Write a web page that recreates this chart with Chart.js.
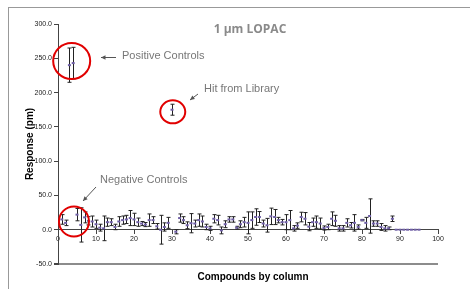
<!DOCTYPE html>
<html>
<head>
<meta charset="utf-8">
<script src="https://cdn.jsdelivr.net/npm/chart.js@4"></script>
<style>
  html, body { margin: 0; padding: 0; background: #fff; }
  #wrap { width: 470px; height: 289px; position: relative; }
</style>
</head>
<body>
<div id="wrap"><canvas id="grafico"></canvas></div>
<script>
// compounds (column number), mean response (pm) and error bar (+/-)
const compoundCols = [1,2,5,6,7,8,9,10,11,12,13,14,15,16,17,18,19,20,21,22,23,24,25,26,27,28,29,
  31,32,33,34,35,36,37,38,39,40,41,42,43,44,45,46,47,48,49,50,51,52,53,54,55,56,57,58,59,60,
  61,62,63,64,65,66,67,68,69,70,71,72,73,74,75,76,77,78,79,80,81,82,83,84,85,86,87,88,
  89,90,91,92,93,94,95]
const compoundResp = [15,10,22,7,18,13,12,8,3,2,11,11,4,12,14,15,17,15,11,9,7.5,14,14,5,0,4,10,
  -3,17,14,6.5,9.5,9,14,12,4,2,16,14,-1,8,15,15,3,8,11,10,14,18.5,18.5,9,6.5,19.5,18.5,14,11,11,
  14,2,6,18.5,16,4.5,11,11,9,2.5,4,16,13,2,2,10,6.5,10,4,14,10,20,9,9,4,2,2,16,
  0,0,0,0,0,0,0]
const compoundErr = [7,4,9,25,8,6,8,6,5,18,6,5,4,7,6,6,11,9,6,3,3,9,5,4,21,6,8,
  3,6,5,5,14,5,9,8,4,3,6,7,5,5,4,4,2,5,7,16,12,12,8,5,10,12,11,4,4,11,
  14,4,4,7,9,6,6,9,8,3,4,10,8,4,4,6,4,12,3,1,8,25,4,4,5,4,2,4,
  0,0,0,0,0,0,0]

const positiveCols = [3, 4]
const positiveResp = [240, 243]
const positiveErr = [25, 23]

const hitCols = [30]
const hitResp = [175]
const hitErr = [8]

const yTicks = [-50, 0, 50, 100, 150, 200, 250, 300]

function montarPontos(cols, resp, err) {
  return cols.map((c, i) => ({ x: c, y: resp[i], e: err[i] }))
}

const pontos = montarPontos(compoundCols, compoundResp, compoundErr)
  .concat(montarPontos(positiveCols, positiveResp, positiveErr))
  .concat(montarPontos(hitCols, hitResp, hitErr))

// error bars, drawn under the markers
const barrasErro = {
  id: 'barrasErro',
  beforeDatasetsDraw(chart) {
    const ctx = chart.ctx
    const xs = chart.scales.x
    const ys = chart.scales.y
    ctx.save()
    ctx.strokeStyle = '#222'
    ctx.lineWidth = 1
    chart.data.datasets[0].data.forEach(p => {
      if (!p.e) return
      const px = Math.round(xs.getPixelForValue(p.x)) + 0.5
      const top = ys.getPixelForValue(p.y + p.e)
      const bot = ys.getPixelForValue(p.y - p.e)
      ctx.beginPath()
      ctx.moveTo(px, top); ctx.lineTo(px, bot)
      ctx.moveTo(px - 2, top); ctx.lineTo(px + 2, top)
      ctx.moveTo(px - 2, bot); ctx.lineTo(px + 2, bot)
      ctx.stroke()
    })
    ctx.restore()
  }
}

function seta(ctx, x1, y1, x2, y2) {
  const ang = Math.atan2(y2 - y1, x2 - x1)
  ctx.beginPath()
  ctx.moveTo(x1, y1)
  ctx.lineTo(x2, y2)
  ctx.stroke()
  ctx.beginPath()
  ctx.moveTo(x2, y2)
  ctx.lineTo(x2 - 5 * Math.cos(ang - 0.45), y2 - 5 * Math.sin(ang - 0.45))
  ctx.lineTo(x2 - 5 * Math.cos(ang + 0.45), y2 - 5 * Math.sin(ang + 0.45))
  ctx.closePath()
  ctx.fill()
}

// frame, title, callouts
const anotacoes = {
  id: 'anotacoes',
  beforeDraw(chart) {
    const ctx = chart.ctx
    ctx.save()
    ctx.strokeStyle = '#999'
    ctx.lineWidth = 1
    ctx.strokeRect(8.5, 7.5, 480, 300)
    ctx.restore()
  },
  afterDraw(chart) {
    const ctx = chart.ctx
    const xs = chart.scales.x
    const ys = chart.scales.y
    ctx.save()

    ctx.fillStyle = '#8a8a8a'
    ctx.font = 'bold 12px "Open Sans", sans-serif'
    ctx.textAlign = 'center'
    ctx.textBaseline = 'middle'
    ctx.fillText('1 µm LOPAC', 250, 30)

    ctx.fillStyle = '#000'
    ctx.font = 'bold 10px "Liberation Sans", Arial, sans-serif'
    ctx.fillText('Compounds by column', 253, 277)

    // red circles around the groups
    ctx.strokeStyle = '#e10000'
    ctx.lineWidth = 2
    const circulo = (cx, cy, rx, ry) => {
      ctx.beginPath()
      ctx.ellipse(cx, cy, rx, ry, 0, 0, Math.PI * 2)
      ctx.stroke()
    }
    circulo(xs.getPixelForValue(3.6), ys.getPixelForValue(246), 18.5, 18)
    circulo(xs.getPixelForValue(30.2), ys.getPixelForValue(172), 12.5, 11.5)
    circulo(xs.getPixelForValue(4.2), ys.getPixelForValue(12), 15, 15)

    // labels + arrows
    ctx.fillStyle = '#777'
    ctx.strokeStyle = '#555'
    ctx.lineWidth = 1
    ctx.textAlign = 'left'
    ctx.font = '11px "Liberation Sans", Arial, sans-serif'
    ctx.fillText('Positive Controls', 122, 56)
    ctx.fillText('Hit from Library', 204, 89)
    ctx.fillText('Negative Controls', 100, 180)
    ctx.fillStyle = '#555'
    seta(ctx, 116, 57.5, 101, 57.5)
    seta(ctx, 198, 94, 190, 100)
    seta(ctx, 96, 187, 83, 201)

    ctx.restore()
  }
}

new Chart(document.getElementById('grafico'), {
  type: 'scatter',
  data: {
    datasets: [{
      data: pontos,
      pointStyle: 'line',
      pointRadius: 1.5,
      pointBorderWidth: 2,
      borderColor: '#6f5fa6',
      backgroundColor: '#6f5fa6'
    }]
  },
  options: {
    responsive: true,
    maintainAspectRatio: false,
    animation: false,
    layout: { padding: { left: 0, right: 32, top: 24, bottom: 25 } },
    plugins: {
      legend: { display: false },
      tooltip: { enabled: false }
    },
    scales: {
      x: {
        type: 'linear',
        min: 0,
        max: 100,
        position: { y: 0 },
        grid: { drawOnChartArea: false, tickLength: 4, tickColor: '#444' },
        border: { color: '#444' },
        ticks: {
          stepSize: 10,
          color: '#222',
          padding: 1,
          maxRotation: 0,
          font: { size: 7, family: '"Liberation Sans", Arial, sans-serif' }
        }
      },
      y: {
        min: -50,
        max: 300,
        afterFit(s) { s.width = 58 },
        afterBuildTicks(s) { s.ticks = yTicks.map(v => ({ value: v })) },
        grid: {
          color: ctx => ctx.tick && ctx.tick.value === -50 ? '#8c8c8c' : 'rgba(0,0,0,0)',
          lineWidth: ctx => ctx.tick && ctx.tick.value === -50 ? 2 : 1,
          tickLength: 4,
          tickColor: '#444'
        },
        border: { color: '#444' },
        title: {
          display: true,
          text: 'Response (pm)',
          color: '#000',
          padding: { top: 24, bottom: 0 },
          font: { size: 10, weight: 'bold', family: '"Liberation Sans", Arial, sans-serif' }
        },
        ticks: {
          color: '#222',
          padding: 2,
          callback: v => v.toFixed(1),
          font: { size: 7, family: '"Liberation Sans", Arial, sans-serif' }
        }
      }
    }
  },
  plugins: [barrasErro, anotacoes]
})
</script>
</body>
</html>
